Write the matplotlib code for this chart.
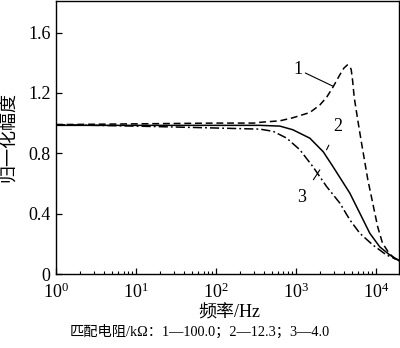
import matplotlib
matplotlib.use("Agg")
import matplotlib.pyplot as plt
from matplotlib.ticker import FixedLocator, FixedFormatter, LogLocator, NullFormatter

plt.rcParams['font.family'] = ['Liberation Serif', 'Noto Sans CJK SC', 'DejaVu Sans']
plt.rcParams['mathtext.fontset'] = 'stix'

# curve 1: matching resistance 100.0 kOhm (dashed)
f1 = [1, 10, 100, 300, 355, 631, 914, 1496, 1995, 2420, 2925, 3548, 4000, 4400,
      4730, 4920, 5130, 5370, 5990, 6570, 7240, 7950, 9150, 10540, 12130, 14700,
      18000, 19500]
a1 = [0.99, 0.995, 1.0, 1.0, 1.005, 1.015, 1.035, 1.07, 1.12, 1.17, 1.24, 1.32,
      1.365, 1.385, 1.375, 1.355, 1.28, 1.17, 1.01, 0.88, 0.75, 0.624, 0.47,
      0.314, 0.204, 0.137, 0.093, 0.082]

# curve 2: 12.3 kOhm (solid)
f2 = [1, 10, 100, 355, 631, 914, 1496, 2200, 2925, 3548, 4730, 6310, 8410,
      11200, 14960, 19500]
a2 = [0.985, 0.985, 0.985, 0.985, 0.98, 0.956, 0.90, 0.81, 0.71, 0.64, 0.536,
      0.403, 0.27, 0.18, 0.126, 0.09]

# curve 3: 4.0 kOhm (dash-dot)
f3 = [1, 10, 63, 355, 522, 770, 1122, 1640, 2420, 3548, 4730, 6310, 9150,
      13600, 19500]
a3 = [0.99, 0.98, 0.97, 0.96, 0.945, 0.90, 0.823, 0.71, 0.58, 0.47, 0.359,
      0.27, 0.193, 0.126, 0.09]

y_ticks = [0, 0.4, 0.8, 1.2, 1.6]
y_tick_labels = ['0', '0.4', '0.8', '1.2', '1.6']

fig = plt.figure(figsize=(4.0, 3.48), dpi=100)
ax = fig.add_axes([0.14, 0.2126, 0.8575, 0.785])

lw = 1.1
ax.plot(f1, a1, color='black', lw=lw, linestyle=(0, (4.5, 2.5)))
ax.plot(f2, a2, color='black', lw=lw, linestyle='-')
ax.plot(f3, a3, color='black', lw=lw, linestyle=(0, (6, 2, 1.2, 2)))

ax.set_xscale('log')
ax.set_xlim(1, 19500)
ax.set_ylim(0, 1.81)

ax.yaxis.set_major_locator(FixedLocator(y_ticks))
ax.yaxis.set_major_formatter(FixedFormatter(y_tick_labels))
ax.xaxis.set_major_locator(LogLocator(base=10, numticks=10))
ax.xaxis.set_minor_locator(LogLocator(base=10, subs=range(2, 10), numticks=20))
ax.xaxis.set_minor_formatter(NullFormatter())

ax.tick_params(axis='both', which='major', direction='in', length=4, width=0.9,
               labelsize=13, pad=4)
ax.tick_params(axis='x', which='major', pad=6.5)
ax.tick_params(axis='x', which='minor', direction='in', length=2.5, width=0.8)
for s in ax.spines.values():
    s.set_linewidth(1.0)

for lab in ax.get_yticklabels():
    lab.set_family('Liberation Serif')

ax.set_ylabel('归一化幅度', fontsize=13, family=['Noto Sans CJK SC'], labelpad=8)

fig.text(0.5725, 0.10, '频率/Hz', ha='center', va='center', fontsize=13,
         family=['Liberation Serif', 'Noto Sans CJK SC'])
fig.text(0.50, 0.048, '匹配电阻/kΩ：1—100.0；2—12.3；3—4.0', ha='center',
         va='center', fontsize=10.3, family=['Liberation Serif', 'Noto Sans CJK SC'])

# curve number labels with leader lines
ax.annotate('1', xy=(2925, 1.244), xytext=(1213, 1.355), fontsize=13,
            ha='right', va='center',
            arrowprops=dict(arrowstyle='-', lw=0.8, color='black',
                            shrinkA=0, shrinkB=0))
ax.annotate('2', xy=(2420, 0.823), xytext=(3380, 0.978), fontsize=13,
            ha='center', va='center',
            arrowprops=dict(arrowstyle='-', lw=0.8, color='black',
                            shrinkA=6, shrinkB=0))
ax.annotate('3', xy=(1995, 0.69), xytext=(1178, 0.505), fontsize=13,
            ha='center', va='center',
            arrowprops=dict(arrowstyle='-', lw=0.8, color='black',
                            shrinkA=6, shrinkB=0))

fig.savefig('out.png', dpi=100)
